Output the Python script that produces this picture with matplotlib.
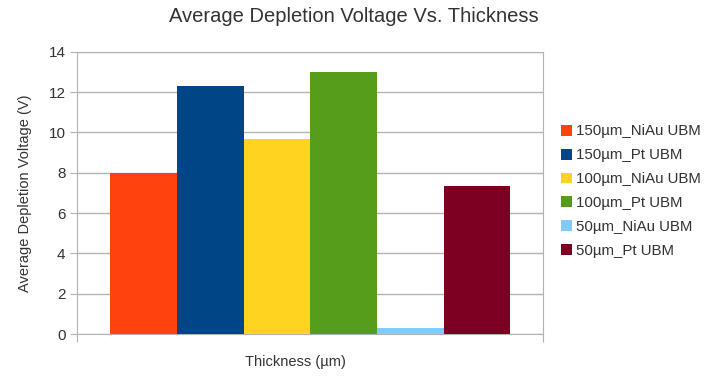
import matplotlib
matplotlib.use("Agg")
import matplotlib.pyplot as plt
import numpy as np

plt.rcParams['font.family'] = ['Liberation Sans', 'DejaVu Sans']

# series data
series = ["150\u00b5m_NiAu UBM", "150\u00b5m_Pt UBM", "100\u00b5m_NiAu UBM",
          "100\u00b5m_Pt UBM", "50\u00b5m_NiAu UBM", "50\u00b5m_Pt UBM"]
values = [8.0, 12.3, 9.65, 13.0, 0.3, 7.35]
colors = ["#ff420e", "#004586", "#ffd320", "#579d1c", "#83caff", "#7e0021"]

fig = plt.figure(figsize=(7.08, 3.76), dpi=100)
ax = fig.add_axes([0.1092, 0.1117, 0.6582, 0.7508])

width = 0.858 / len(series)
offsets = (np.arange(len(series)) - (len(series) - 1) / 2) * width
for off, v, c, name in zip(offsets, values, colors, series):
    ax.bar(off, v, width=width, color=c, label=name, zorder=3)

ax.set_xlim(-0.5, 0.5)
ax.set_ylim(0, 14)
ax.set_yticks(np.arange(0, 15, 2))
ax.set_xticks([-0.5, 0.5])
ax.set_xticklabels(["", ""])
ax.tick_params(axis='both', colors='#b3b3b3', length=5, labelcolor='#333333', labelsize=11)
ax.tick_params(axis='x', length=6)
ax.yaxis.grid(True, color='#b3b3b3', linewidth=1, zorder=0)
for s in ax.spines.values():
    s.set_color('#b3b3b3')

fig.text(0.5, 0.957, "Average Depletion Voltage Vs. Thickness", fontsize=14.5,
         color='#333333', ha='center', va='center')
ax.set_ylabel("Average Depletion Voltage (V)", fontsize=10.5, color='#333333', labelpad=12)
fig.text(0.417, 0.037, "Thickness (\u00b5m)", fontsize=10.5, color='#333333',
         ha='center', va='center')

leg = fig.legend(loc='upper left', bbox_to_anchor=(0.777, 0.697), frameon=False,
                 fontsize=10.8, handlelength=0.75, handleheight=0.75, handletextpad=0.3,
                 labelspacing=0.66, labelcolor='#333333', borderpad=0.2)

fig.savefig("out.png", dpi=100)
